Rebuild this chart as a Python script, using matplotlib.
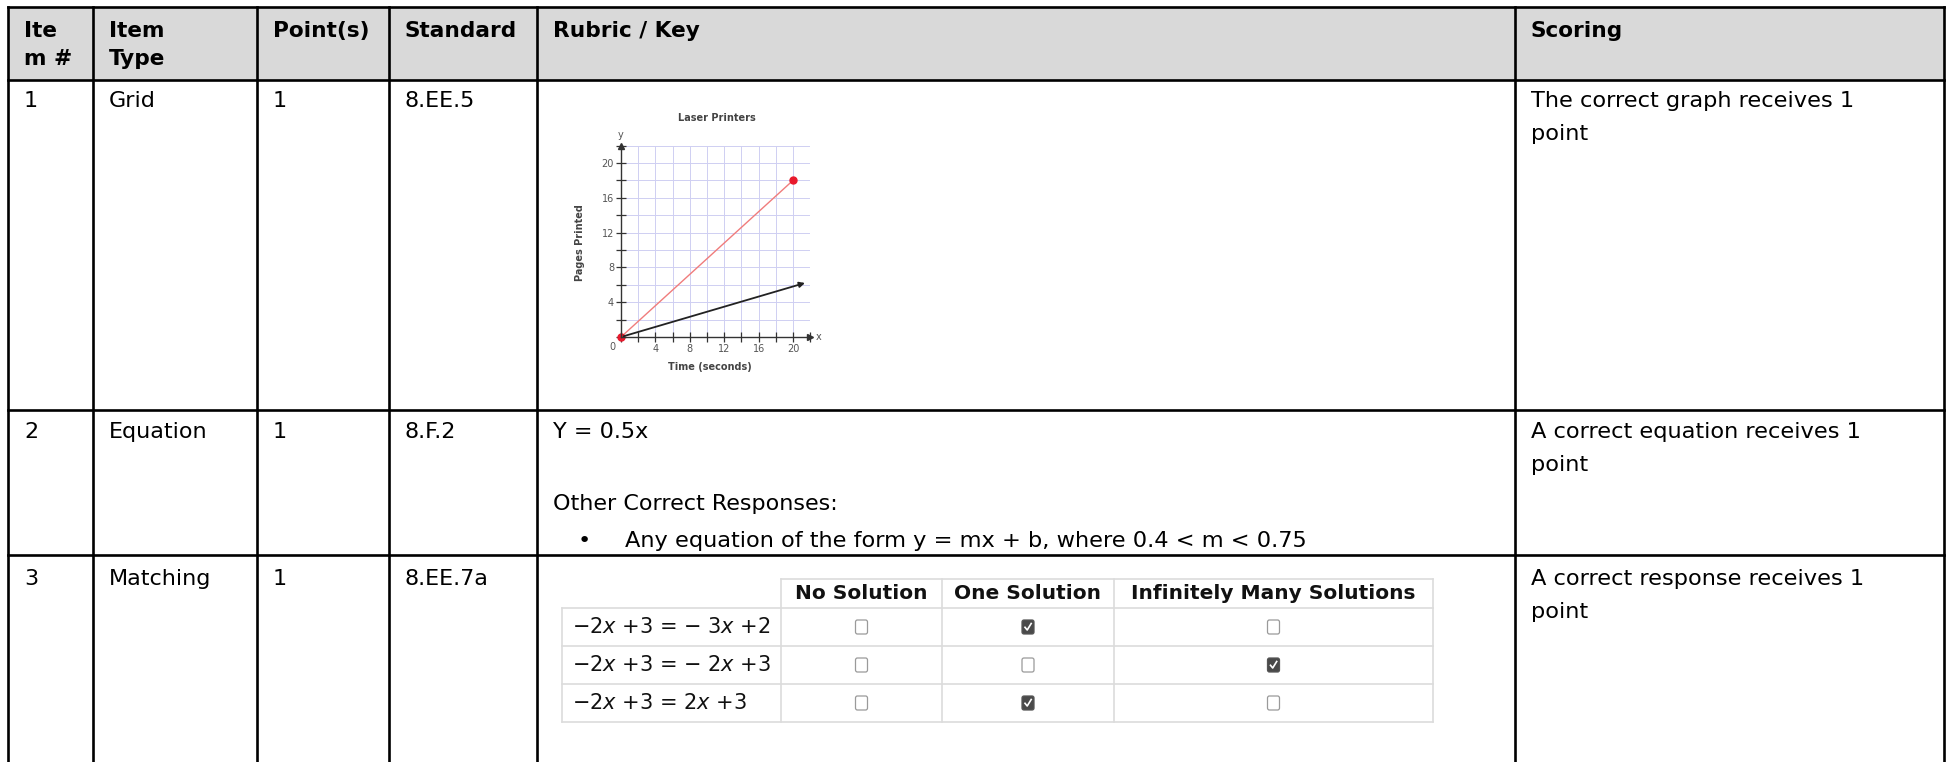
import matplotlib
matplotlib.use('Agg')
import matplotlib.pyplot as plt
from matplotlib.patches import Rectangle, FancyBboxPatch

plt.rcParams['font.family'] = ['DejaVu Sans']
plt.rcParams['mathtext.fontset'] = 'dejavusans'

# main table content
headers = [["Ite", "m #"], ["Item", "Type"], ["Point(s)"], ["Standard"], ["Rubric / Key"], ["Scoring"]]
item_nums = ["1", "2", "3"]
item_types = ["Grid", "Equation", "Matching"]
points = ["1", "1", "1"]
standards = ["8.EE.5", "8.F.2", "8.EE.7a"]
scoring = [["The correct graph receives 1", "point"],
           ["A correct equation receives 1", "point"],
           ["A correct response receives 1", "point"]]
rubric_answer = "Y = 0.5x"
rubric_other = "Other Correct Responses:"
rubric_bullet = "Any equation of the form y = mx + b, where 0.4 < m < 0.75"

# laser printer graph
graph_title = "Laser Printers"
tick_vals = [4, 8, 12, 16, 20]
key_x = [0, 20]
key_y = [0, 18]
given_x = [0, 21.7]
given_y = [0, 6.3]

# matching item
match_cols = ["No Solution", "One Solution", "Infinitely Many Solutions"]
match_eqs = [r"−2$x$ +3 = − 3$x$ +2", r"−2$x$ +3 = − 2$x$ +3", r"−2$x$ +3 = 2$x$ +3"]
match_answer = [1, 2, 1]

W, H = 1948, 762
fig = plt.figure(figsize=(W / 100, H / 100), dpi=100)
ax = fig.add_axes([0, 0, 1, 1])
ax.set_xlim(0, W)
ax.set_ylim(H, 0)
ax.axis('off')

col_x = [8, 93, 257, 389, 537, 1515, 1944]
row_y = [7, 80, 410, 555, H]
lw = 1.9
fs = 16
pad = 16

ax.add_patch(Rectangle((col_x[0], row_y[0]), col_x[-1] - col_x[0], row_y[1] - row_y[0],
                       facecolor='#d9d9d9', edgecolor='none'))
for y in row_y[:-1]:
    ax.plot([col_x[0], col_x[-1]], [y, y], color='black', lw=lw, solid_capstyle='projecting')
for x in col_x:
    ax.plot([x, x], [row_y[0], H + 5], color='black', lw=lw, solid_capstyle='projecting')

# header
for i, lines in enumerate(headers):
    for j, t in enumerate(lines):
        ax.text(col_x[i] + pad, 37 + 28 * j, t, fontsize=15.6, fontweight='bold', va='baseline')

# body rows
base = [107, 438, 585]
for r in range(3):
    for i, t in enumerate([item_nums[r], item_types[r], points[r], standards[r]]):
        ax.text(col_x[i] + pad, base[r], t, fontsize=fs, va='baseline')
    for j, t in enumerate(scoring[r]):
        ax.text(col_x[5] + pad, base[r] + 33 * j, t, fontsize=16.2, va='baseline')

ax.text(col_x[4] + pad, 438, rubric_answer, fontsize=fs, va='baseline')
ax.text(col_x[4] + pad, 510, rubric_other, fontsize=fs, va='baseline')
ax.text(584, 547, "•", fontsize=fs, va='baseline', ha='center')
ax.text(625, 547, rubric_bullet, fontsize=16.2, va='baseline')

# graph inset
gx0, gy0 = 621, 337
ux, uy = 8.6, 8.7
gax = fig.add_axes([gx0 / W, (H - gy0) / H, 22 * ux / W, 22 * uy / H])
gax.set_xlim(0, 22)
gax.set_ylim(0, 22)
gax.set_xticks(range(0, 23, 2))
gax.set_yticks(range(0, 23, 2))
gax.grid(True, color='#cfcff2', lw=0.7)
gax.set_axisbelow(True)
for s in ['top', 'right']:
    gax.spines[s].set_visible(False)
for s in ['left', 'bottom']:
    gax.spines[s].set_color('#333333')
    gax.spines[s].set_linewidth(1.0)
gax.tick_params(direction='inout', length=7, width=0.9, colors='#333333',
                labelsize=7, labelcolor='#555555', pad=1.5)
gax.set_xticklabels([str(v) if v in tick_vals else '' for v in range(0, 23, 2)])
gax.set_yticklabels([str(v) if v in tick_vals else '' for v in range(0, 23, 2)])
gax.plot(22, 0, marker='>', color='#333333', ms=4, clip_on=False)
gax.plot(0, 22, marker='^', color='#333333', ms=4, clip_on=False)
gax.text(-0.6, -0.6, "0", fontsize=7, color='#555555', ha='right', va='top')
gax.text(23.0, 0, "x", fontsize=7, color='#555555', ha='center', va='center')
gax.text(0, 23.2, "y", fontsize=7, color='#555555', ha='center', va='center')
gax.text(11.2, 25.2, graph_title, fontsize=7, fontweight='bold', color='#444444', ha='center', va='center')
gax.text(10.3, -3.5, "Time (seconds)", fontsize=7, fontweight='bold', color='#444444', ha='center', va='center')
gax.text(-4.8, 10.8, "Pages Printed", fontsize=7, fontweight='bold', color='#444444', ha='center',
         va='center', rotation=90)
gax.annotate('', xy=(given_x[1], given_y[1]), xytext=(given_x[0], given_y[0]),
             arrowprops=dict(arrowstyle='-|>', color='#222222', lw=1.3, mutation_scale=8))
gax.plot(key_x, key_y, color='#f07c7c', lw=1.0)
gax.plot(key_x, key_y, 'o', color='#e8192c', ms=5, clip_on=False)

# matching table
mt_left = 562
mt_cols = [781, 942, 1114, 1433]
mt_top = 579
mt_rows = [608, 646, 684, 722]
bc = '#dcdcdc'
ax.plot([mt_cols[0], mt_cols[-1]], [mt_top, mt_top], color=bc, lw=1.2)
for y in mt_rows:
    ax.plot([mt_left, mt_cols[-1]], [y, y], color=bc, lw=1.2)
ax.plot([mt_left, mt_left], [mt_rows[0], mt_rows[-1]], color=bc, lw=1.2)
for x in mt_cols:
    ax.plot([x, x], [mt_top, mt_rows[-1]], color=bc, lw=1.2)
for k, name in enumerate(match_cols):
    ax.text((mt_cols[k] + mt_cols[k + 1]) / 2, (mt_top + mt_rows[0]) / 2, name, fontsize=14.5,
            fontweight='bold', ha='center', va='center', color='#111111')
for r, eq in enumerate(match_eqs):
    cy = (mt_rows[r] + mt_rows[r + 1]) / 2
    ax.text(mt_left + 10, cy, eq, fontsize=15, ha='left', va='center', color='#111111')
    for k in range(3):
        cx = (mt_cols[k] + mt_cols[k + 1]) / 2
        checked = (match_answer[r] == k)
        ax.add_patch(FancyBboxPatch((cx - 6, cy - 7), 12, 14, boxstyle='round,pad=0,rounding_size=2',
                                    facecolor='#4a4a4a' if checked else 'white',
                                    edgecolor='#555555' if checked else '#9a9a9a', lw=0.9))
        if checked:
            ax.plot([cx - 3, cx - 0.8, cx + 3.2], [cy + 0.3, cy + 3, cy - 3.5], color='white', lw=1.2)

fig.savefig('out.png', dpi=100)
